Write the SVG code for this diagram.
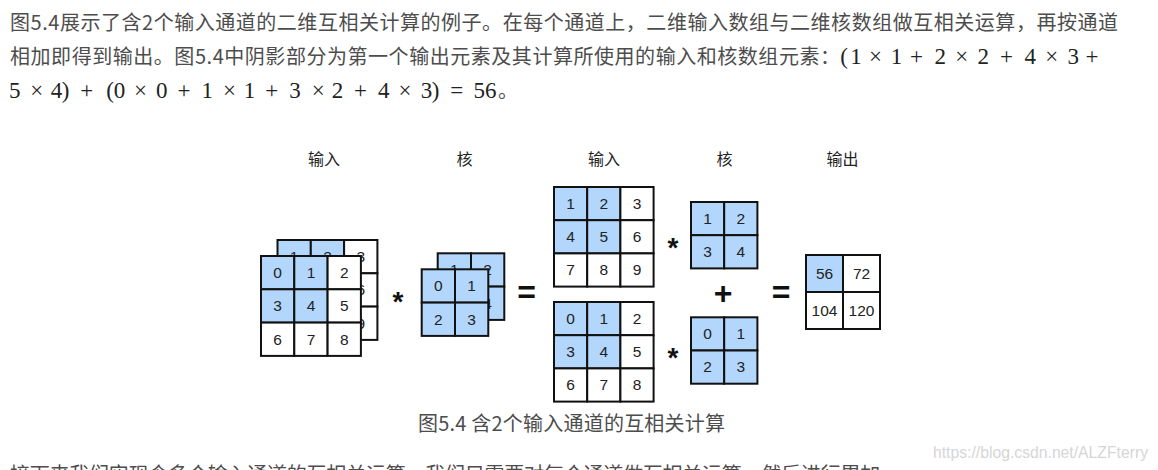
<svg xmlns="http://www.w3.org/2000/svg" width="1158" height="470" viewBox="0 0 1158 470">
<style>
.para{font-family:"Noto Sans CJK SC","Noto Sans",sans-serif;font-size:20px;fill:#4d4d4d}
.math{font-family:"Liberation Serif","DejaVu Serif",serif;font-size:23px;fill:#222;text-anchor:middle}
.lbl{font-family:"Noto Sans CJK SC","Noto Sans",sans-serif;font-size:16px;fill:#222;text-anchor:middle}
.c{stroke:#111;stroke-width:2}
.b{fill:#b3d7fc}
.w{fill:#fff}
.n{font-family:"Liberation Sans",Arial,sans-serif;font-size:15.5px;fill:#222;text-anchor:middle}
.op{font-family:"Liberation Sans",Arial,sans-serif;font-weight:bold;fill:#111;text-anchor:middle}
.wm{font-family:"Liberation Sans",Arial,sans-serif;font-size:16px;fill:#d6d6d6}
</style>
<rect width="1158" height="470" fill="#fff"/>

<g id="paragraph">
<text class="para" x="10" y="30" textLength="1108" lengthAdjust="spacing">图5.4展示了含2个输入通道的二维互相关计算的例子。在每个通道上，二维输入数组与二维核数组做互相关运算，再按通道</text>
<text class="para" x="10" y="64" textLength="830" lengthAdjust="spacing">相加即得到输出。图5.4中阴影部分为第一个输出元素及其计算所使用的输入和核数组元素：</text>
<text class="math" y="64"><tspan x="844">(</tspan><tspan x="856">1</tspan><tspan x="875.5">×</tspan><tspan x="896.6">1</tspan><tspan x="916.5">+</tspan><tspan x="940.3">2</tspan><tspan x="961.7">×</tspan><tspan x="983.3">2</tspan><tspan x="1006.5">+</tspan><tspan x="1030.3">4</tspan><tspan x="1051.7">×</tspan><tspan x="1073.3">3</tspan><tspan x="1092">+</tspan></text>
<text class="math" y="98"><tspan x="14.8">5</tspan><tspan x="36.8">×</tspan><tspan x="56.5">4</tspan><tspan x="65.5">)</tspan><tspan x="86.8">+</tspan><tspan x="110">(</tspan><tspan x="119.5">0</tspan><tspan x="140.5">×</tspan><tspan x="161.8">0</tspan><tspan x="184">+</tspan><tspan x="207.3">1</tspan><tspan x="229.5">×</tspan><tspan x="249.5">1</tspan><tspan x="271.8">+</tspan><tspan x="295">3</tspan><tspan x="318.3">×</tspan><tspan x="337.5">2</tspan><tspan x="360.5">+</tspan><tspan x="383.8">4</tspan><tspan x="405">×</tspan><tspan x="426.5">3</tspan><tspan x="435.5">)</tspan><tspan x="456.8">=</tspan><tspan x="485">56</tspan></text>
<text class="para" x="498" y="98">。</text>
</g>

<g id="labels">
<text class="lbl" x="324" y="165">输入</text>
<text class="lbl" x="464.5" y="165">核</text>
<text class="lbl" x="604" y="165">输入</text>
<text class="lbl" x="724.5" y="165">核</text>
<text class="lbl" x="842.5" y="165">输出</text>
</g>

<g id="connectors"></g>

<g id="input-ch1-back" transform="translate(277.5,240)">
<rect class="c b" x="0" y="0" width="33.3" height="33.3"/><rect class="c b" x="33.3" y="0" width="33.3" height="33.3"/><rect class="c w" x="66.6" y="0" width="33.3" height="33.3"/>
<rect class="c b" x="0" y="33.3" width="33.3" height="33.3"/><rect class="c b" x="33.3" y="33.3" width="33.3" height="33.3"/><rect class="c w" x="66.6" y="33.3" width="33.3" height="33.3"/>
<rect class="c w" x="0" y="66.6" width="33.3" height="33.3"/><rect class="c w" x="33.3" y="66.6" width="33.3" height="33.3"/><rect class="c w" x="66.6" y="66.6" width="33.3" height="33.3"/>
<text class="n" x="16.65" y="22">1</text><text class="n" x="49.95" y="22">2</text><text class="n" x="83.25" y="22">3</text>
<text class="n" x="16.65" y="55.3">4</text><text class="n" x="49.95" y="55.3">5</text><text class="n" x="83.25" y="55.3">6</text>
<text class="n" x="16.65" y="88.6">7</text><text class="n" x="49.95" y="88.6">8</text><text class="n" x="83.25" y="88.6">9</text>
</g>
<g id="input-ch0-front" transform="translate(261,256)">
<rect class="c b" x="0" y="0" width="33.3" height="33.3"/><rect class="c b" x="33.3" y="0" width="33.3" height="33.3"/><rect class="c w" x="66.6" y="0" width="33.3" height="33.3"/>
<rect class="c b" x="0" y="33.3" width="33.3" height="33.3"/><rect class="c b" x="33.3" y="33.3" width="33.3" height="33.3"/><rect class="c w" x="66.6" y="33.3" width="33.3" height="33.3"/>
<rect class="c w" x="0" y="66.6" width="33.3" height="33.3"/><rect class="c w" x="33.3" y="66.6" width="33.3" height="33.3"/><rect class="c w" x="66.6" y="66.6" width="33.3" height="33.3"/>
<text class="n" x="16.65" y="22">0</text><text class="n" x="49.95" y="22">1</text><text class="n" x="83.25" y="22">2</text>
<text class="n" x="16.65" y="55.3">3</text><text class="n" x="49.95" y="55.3">4</text><text class="n" x="83.25" y="55.3">5</text>
<text class="n" x="16.65" y="88.6">6</text><text class="n" x="49.95" y="88.6">7</text><text class="n" x="83.25" y="88.6">8</text>
</g>

<g id="kernel-ch1-back" transform="translate(437.7,253.3)">
<rect class="c b" x="0" y="0" width="33.3" height="33.3"/><rect class="c b" x="33.3" y="0" width="33.3" height="33.3"/>
<rect class="c b" x="0" y="33.3" width="33.3" height="33.3"/><rect class="c b" x="33.3" y="33.3" width="33.3" height="33.3"/>
<text class="n" x="16.65" y="22">1</text><text class="n" x="49.95" y="22">2</text>
<text class="n" x="16.65" y="55.3">3</text><text class="n" x="49.95" y="55.3">4</text>
</g>
<g id="kernel-ch0-front" transform="translate(421.7,269.3)">
<rect class="c b" x="0" y="0" width="33.3" height="33.3"/><rect class="c b" x="33.3" y="0" width="33.3" height="33.3"/>
<rect class="c b" x="0" y="33.3" width="33.3" height="33.3"/><rect class="c b" x="33.3" y="33.3" width="33.3" height="33.3"/>
<text class="n" x="16.65" y="22">0</text><text class="n" x="49.95" y="22">1</text>
<text class="n" x="16.65" y="55.3">2</text><text class="n" x="49.95" y="55.3">3</text>
</g>

<g id="input-ch1" transform="translate(554,187)">
<rect class="c b" x="0" y="0" width="33.2" height="33.2"/><rect class="c b" x="33.2" y="0" width="33.2" height="33.2"/><rect class="c w" x="66.4" y="0" width="33.2" height="33.2"/>
<rect class="c b" x="0" y="33.2" width="33.2" height="33.2"/><rect class="c b" x="33.2" y="33.2" width="33.2" height="33.2"/><rect class="c w" x="66.4" y="33.2" width="33.2" height="33.2"/>
<rect class="c w" x="0" y="66.4" width="33.2" height="33.2"/><rect class="c w" x="33.2" y="66.4" width="33.2" height="33.2"/><rect class="c w" x="66.4" y="66.4" width="33.2" height="33.2"/>
<text class="n" x="16.6" y="22">1</text><text class="n" x="49.8" y="22">2</text><text class="n" x="83" y="22">3</text>
<text class="n" x="16.6" y="55.2">4</text><text class="n" x="49.8" y="55.2">5</text><text class="n" x="83" y="55.2">6</text>
<text class="n" x="16.6" y="88.4">7</text><text class="n" x="49.8" y="88.4">8</text><text class="n" x="83" y="88.4">9</text>
</g>
<g id="input-ch0" transform="translate(554,302)">
<rect class="c b" x="0" y="0" width="33.2" height="33.2"/><rect class="c b" x="33.2" y="0" width="33.2" height="33.2"/><rect class="c w" x="66.4" y="0" width="33.2" height="33.2"/>
<rect class="c b" x="0" y="33.2" width="33.2" height="33.2"/><rect class="c b" x="33.2" y="33.2" width="33.2" height="33.2"/><rect class="c w" x="66.4" y="33.2" width="33.2" height="33.2"/>
<rect class="c w" x="0" y="66.4" width="33.2" height="33.2"/><rect class="c w" x="33.2" y="66.4" width="33.2" height="33.2"/><rect class="c w" x="66.4" y="66.4" width="33.2" height="33.2"/>
<text class="n" x="16.6" y="22">0</text><text class="n" x="49.8" y="22">1</text><text class="n" x="83" y="22">2</text>
<text class="n" x="16.6" y="55.2">3</text><text class="n" x="49.8" y="55.2">4</text><text class="n" x="83" y="55.2">5</text>
<text class="n" x="16.6" y="88.4">6</text><text class="n" x="49.8" y="88.4">7</text><text class="n" x="83" y="88.4">8</text>
</g>

<g id="kernel-ch1" transform="translate(691,202)">
<rect class="c b" x="0" y="0" width="33.2" height="33.2"/><rect class="c b" x="33.2" y="0" width="33.2" height="33.2"/>
<rect class="c b" x="0" y="33.2" width="33.2" height="33.2"/><rect class="c b" x="33.2" y="33.2" width="33.2" height="33.2"/>
<text class="n" x="16.6" y="22">1</text><text class="n" x="49.8" y="22">2</text>
<text class="n" x="16.6" y="55.2">3</text><text class="n" x="49.8" y="55.2">4</text>
</g>
<g id="kernel-ch0" transform="translate(691,317.3)">
<rect class="c b" x="0" y="0" width="33.2" height="33.2"/><rect class="c b" x="33.2" y="0" width="33.2" height="33.2"/>
<rect class="c b" x="0" y="33.2" width="33.2" height="33.2"/><rect class="c b" x="33.2" y="33.2" width="33.2" height="33.2"/>
<text class="n" x="16.6" y="22">0</text><text class="n" x="49.8" y="22">1</text>
<text class="n" x="16.6" y="55.2">2</text><text class="n" x="49.8" y="55.2">3</text>
</g>

<g id="output" transform="translate(806,255)">
<rect class="c b" x="0" y="0" width="37" height="37"/><rect class="c w" x="37" y="0" width="37" height="37"/>
<rect class="c w" x="0" y="37" width="37" height="37"/><rect class="c w" x="37" y="37" width="37" height="37"/>
<text class="n" x="18.5" y="24">56</text><text class="n" x="55.5" y="24">72</text>
<text class="n" x="18.5" y="61">104</text><text class="n" x="55.5" y="61">120</text>
</g>

<g id="operators">
<text class="op" x="398" y="311" font-size="28">*</text>
<text class="op" x="673" y="257" font-size="28">*</text>
<text class="op" x="673" y="367" font-size="28">*</text>
<text class="op" x="526.5" y="303.4" font-size="32">=</text>
<text class="op" x="781" y="303.4" font-size="32">=</text>
<text class="op" x="723" y="304.4" font-size="32">+</text>
</g>

<g id="caption">
<text class="para" x="418" y="431" textLength="307" lengthAdjust="spacing">图5.4 含2个输入通道的互相关计算</text>
</g>

<text class="wm" x="933" y="458" textLength="215" lengthAdjust="spacingAndGlyphs">https://blog.csdn.net/ALZFterry</text>
<text class="para" x="10" y="482" textLength="890" lengthAdjust="spacing">接下来我们实现含多个输入通道的互相关运算。我们只需要对每个通道做互相关运算，然后进行累加。</text>
</svg>
